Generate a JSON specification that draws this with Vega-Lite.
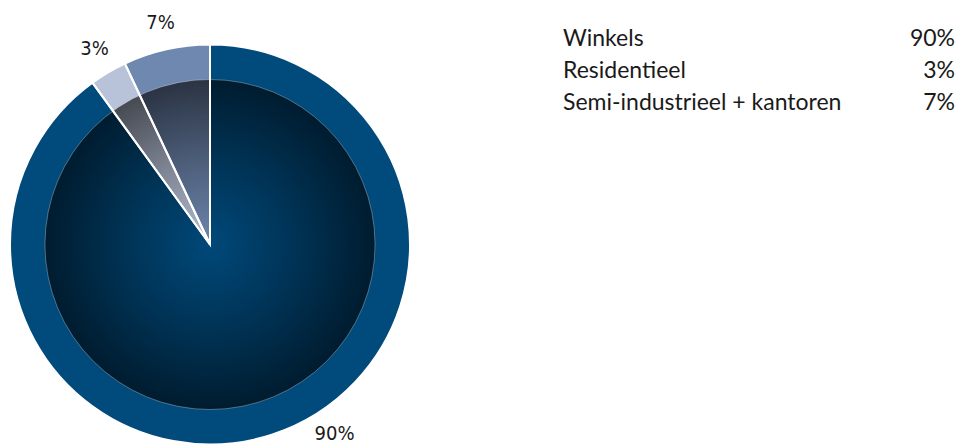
{
  "$schema": "https://vega.github.io/schema/vega-lite/v6.json",
  "padding": 0,
  "background": "white",
  "config": {"view": {"stroke": null}, "concat": {"spacing": 143}},
  "datasets": {
    "shares": [
      {"category": "Winkels", "share": 90, "label": "90%", "idx": 1},
      {"category": "Residentieel", "share": 3, "label": "3%", "idx": 2},
      {"category": "Semi-industrieel + kantoren", "share": 7, "label": "7%", "idx": 3}
    ]
  },
  "hconcat": [
    {
      "width": 420,
      "height": 489,
      "data": {"name": "shares"},
      "layer": [
        {
          "mark": {"type": "arc", "radius": 200},
          "encoding": {
            "theta": {"field": "share", "type": "quantitative", "stack": true},
            "order": {"field": "idx", "type": "quantitative"},
            "color": {
              "field": "category",
              "type": "nominal",
              "scale": {
                "domain": ["Winkels", "Residentieel", "Semi-industrieel + kantoren"],
                "range": ["#004A7C", "#B8C2D8", "#6F88B0"]
              },
              "legend": null
            }
          }
        },
        {
          "data": {"values": [{"part": "inner"}]},
          "mark": {
            "type": "arc",
            "radius": 165,
            "theta": 0,
            "theta2": 6.2832,
            "fill": {
              "gradient": "radial",
              "x1": 0.5, "y1": 0.5, "r1": 0,
              "x2": 0.5, "y2": 0.5, "r2": 0.5,
              "stops": [
                {"offset": 0, "color": "rgba(0,0,0,0.02)"},
                {"offset": 0.5, "color": "rgba(0,0,0,0.3)"},
                {"offset": 1, "color": "rgba(0,0,0,0.62)"}
              ]
            },
            "stroke": "rgba(255,255,255,0.3)",
            "strokeWidth": 1
          },
          "encoding": {}
        },
        {
          "mark": {"type": "arc", "radius": 200, "fillOpacity": 0, "stroke": "white", "strokeWidth": 2},
          "encoding": {
            "theta": {"field": "share", "type": "quantitative", "stack": true},
            "order": {"field": "idx", "type": "quantitative"}
          }
        },
        {
          "mark": {
            "type": "text",
            "radius": 227,
            "font": "DejaVu Sans Condensed",
            "fontSize": 20,
            "color": "#1a1a1a",
            "thetaOffset": {"expr": "datum.category === 'Winkels' ? -0.267 : 0"}
          },
          "encoding": {
            "theta": {"field": "share", "type": "quantitative", "stack": true},
            "order": {"field": "idx", "type": "quantitative"},
            "text": {"field": "label"}
          }
        }
      ]
    },
    {
      "width": 392,
      "height": 140,
      "data": {"name": "shares"},
      "encoding": {
        "y": {
          "field": "category",
          "type": "nominal",
          "sort": ["Winkels", "Residentieel", "Semi-industrieel + kantoren"],
          "scale": {"type": "point", "range": [39, 103], "padding": 0},
          "axis": null
        }
      },
      "layer": [
        {
          "mark": {"type": "text", "align": "left", "baseline": "middle", "font": "Lato", "fontSize": 23, "color": "#1a1a1a"},
          "encoding": {"x": {"value": 0}, "text": {"field": "category"}}
        },
        {
          "mark": {"type": "text", "align": "right", "baseline": "middle", "font": "Lato", "fontSize": 23, "color": "#1a1a1a"},
          "encoding": {"x": {"value": "width"}, "text": {"field": "label"}}
        }
      ]
    }
  ]
}
